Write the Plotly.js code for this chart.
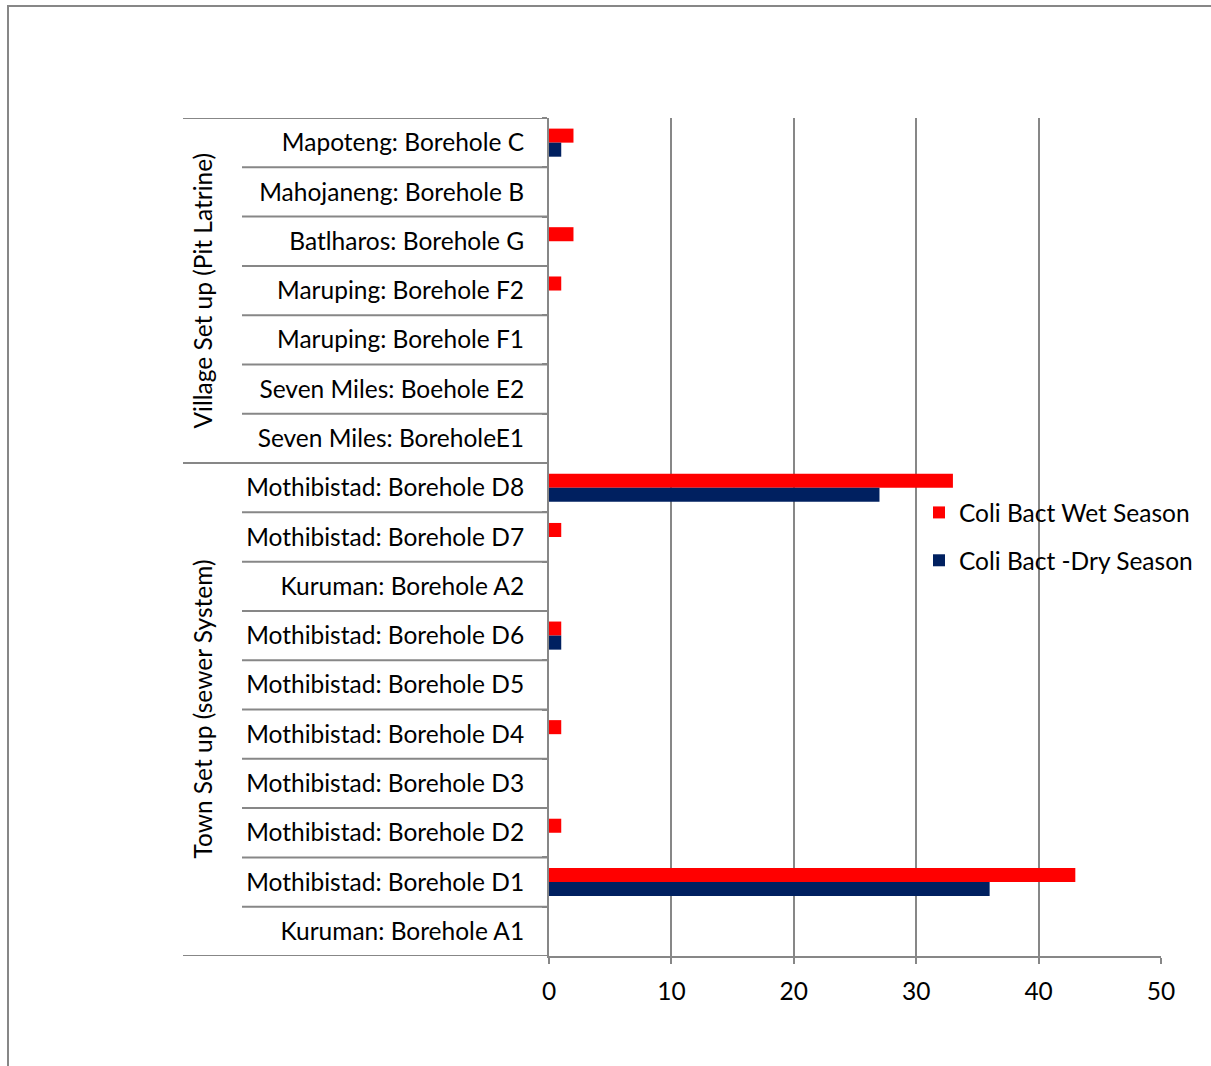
<!DOCTYPE html>
<html>
<head>
<meta charset="utf-8">
<script src="https://cdn.plot.ly/plotly-3.0.1.min.js"></script>
<style>
  html, body { margin: 0; padding: 0; background: #fff; }
  #chart { width: 1211px; height: 1066px; }
</style>
</head>
<body>
<div id="chart"></div>
<script>
// Boreholes, listed from top to bottom of the chart
const categories = [
  "Mapoteng: Borehole C",
  "Mahojaneng: Borehole B",
  "Batlharos: Borehole G",
  "Maruping: Borehole F2",
  "Maruping: Borehole F1",
  "Seven Miles: Boehole E2",
  "Seven Miles: BoreholeE1",
  "Mothibistad: Borehole D8",
  "Mothibistad: Borehole D7",
  "Kuruman: Borehole A2",
  "Mothibistad: Borehole D6",
  "Mothibistad: Borehole D5",
  "Mothibistad: Borehole D4",
  "Mothibistad: Borehole D3",
  "Mothibistad: Borehole D2",
  "Mothibistad: Borehole D1",
  "Kuruman: Borehole A1"
];
const wetSeason = [2, 0, 2, 1, 0, 0, 0, 33, 1, 0, 1, 0, 1, 0, 1, 43, 0];
const drySeason = [1, 0, 0, 0, 0, 0, 0, 27, 0, 0, 1, 0, 0, 0, 0, 36, 0];
const seriesNames = ["Coli Bact Wet Season", "Coli Bact -Dry Season"];

// Setting groups (top to bottom) and how many boreholes each holds
const groupNames = ["Village Set up (Pit Latrine)", "Town Set up (sewer System)"];
const groupSizes = [7, 10];

const W = 1211, H = 1066;
const M = { l: 549, r: 50, t: 118, b: 110 };
const plotW = W - M.l - M.r, plotH = H - M.t - M.b;
const px2x = px => (px - M.l) / plotW;
const px2y = py => 1 - (py - M.t) / plotH;

const GRID = "#878787";
const FONT = "Lato, 'Open Sans', sans-serif";
const FS = 24.5;

const traces = [
  { type: "bar", orientation: "h", name: seriesNames[0], y: categories, x: wetSeason,
    marker: { color: "#FF0000" }, legendgroup: "wet", hoverinfo: "x+y" },
  { type: "bar", orientation: "h", name: seriesNames[1], y: categories, x: drySeason,
    marker: { color: "#002060" }, legendgroup: "dry", hoverinfo: "x+y" }
];

const shapes = [];
const annotations = [];
const n = categories.length;

// Separator lines in the category label column
let start = 0;
const groupEdges = [0];
groupSizes.forEach(s => { start += s; groupEdges.push(start); });
for (let i = 0; i <= n; i++) {
  const isGroupEdge = groupEdges.includes(i);
  shapes.push({
    type: "line", xref: "paper", yref: "y",
    x0: px2x(isGroupEdge ? 183 : 242), x1: 0,
    y0: i - 0.5, y1: i - 0.5,
    line: { color: GRID, width: 2 }
  });
}

// Rotated group labels
groupNames.forEach((g, k) => {
  const mid = (groupEdges[k] + groupEdges[k + 1]) / 2 - 0.5;
  annotations.push({
    xref: "paper", yref: "y", x: px2x(203), y: mid,
    text: g, showarrow: false, textangle: -90,
    font: { family: FONT, size: FS, color: "#000" },
    xanchor: "center", yanchor: "middle"
  });
});

// Outer chart frame
shapes.push({
  type: "rect", xref: "paper", yref: "paper",
  x0: px2x(8), x1: px2x(W + 20), y0: px2y(H + 20), y1: px2y(6),
  line: { color: GRID, width: 2 }, fillcolor: "rgba(0,0,0,0)"
});

const layout = {
  width: W, height: H,
  margin: M,
  paper_bgcolor: "#fff", plot_bgcolor: "#fff",
  font: { family: FONT, size: FS, color: "#000" },
  barmode: "group", bargap: 0.43, bargroupgap: 0,
  showlegend: true,
  legend: {
    x: px2x(919), y: px2y(490), xanchor: "left", yanchor: "top",
    traceorder: "grouped", tracegroupgap: 13,
    font: { family: FONT, size: FS, color: "#000" },
    bgcolor: "rgba(0,0,0,0)", itemwidth: 30
  },
  xaxis: {
    range: [0, 50], dtick: 10, tick0: 0,
    showgrid: true, gridcolor: GRID, gridwidth: 2,
    zeroline: false, showline: true, linecolor: GRID, linewidth: 2,
    ticks: "outside", ticklen: 6, tickcolor: GRID, tickwidth: 2,
    ticklabelstandoff: 7,
    tickfont: { family: FONT, size: FS, color: "#000" }
  },
  yaxis: {
    type: "category", range: [n - 0.5, -0.5],
    showgrid: false, zeroline: false,
    showline: true, linecolor: GRID, linewidth: 2,
    ticks: "outside", ticklen: 5, tickcolor: GRID, tickwidth: 2,
    tickson: "boundaries", ticklabelstandoff: 18,
    tickfont: { family: FONT, size: FS, color: "#000" }
  },
  shapes: shapes,
  annotations: annotations
};

Plotly.newPlot("chart", traces, layout, { displayModeBar: false, staticPlot: true });
</script>
</body>
</html>
